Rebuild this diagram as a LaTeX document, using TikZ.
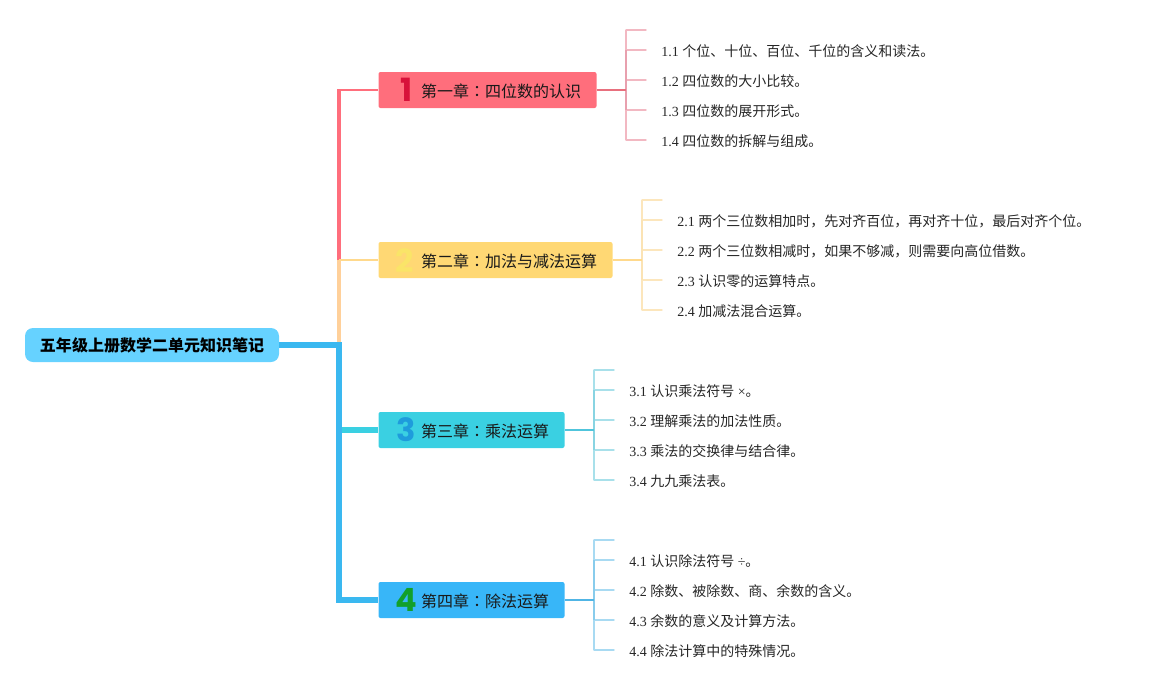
\documentclass[tikz,border=0pt]{standalone}
\usepackage{fontspec}
\setmainfont{Liberation Serif}
\newfontfamily\cjkfont{Noto Sans CJK SC}
\newfontfamily\tcfont{Noto Sans CJK TC}
\newfontfamily\numfont{Poppins}
\usepackage{tikz}
\usetikzlibrary{positioning,calc}

\definecolor{rootblue}{HTML}{66D2FF}
\definecolor{trunkblue}{HTML}{3AB8F0}
\definecolor{chredfill}{HTML}{FF6E7C}
\definecolor{chyellowfill}{HTML}{FFD874}
\definecolor{chcyanfill}{HTML}{3AD0E2}
\definecolor{chbluefill}{HTML}{38B6F8}
\definecolor{peach}{HTML}{FFD09A}
\definecolor{stema}{HTML}{E8A0AE}
\definecolor{stemb}{HTML}{FBE3B4}
\definecolor{stemc}{HTML}{88D4E2}
\definecolor{stemd}{HTML}{88CCEC}
\definecolor{ticka}{HTML}{F2B8C2}
\definecolor{tickb}{HTML}{FCE6BC}
\definecolor{tickc}{HTML}{A8E0EA}
\definecolor{tickd}{HTML}{A8DAF2}
\definecolor{linka}{HTML}{E8707E}
\definecolor{linkb}{HTML}{FFD98C}
\definecolor{linkc}{HTML}{50C5DC}
\definecolor{linkd}{HTML}{50B5E5}
\definecolor{numa}{HTML}{D8123A}
\definecolor{numb}{HTML}{FAE468}
\definecolor{numc}{HTML}{1E9CDC}
\definecolor{numd}{HTML}{12A02A}

\newcommand{\chcolon}{{\tcfont ：}}

\begin{document}
\begin{tikzpicture}[
  x=0.75pt, y=-0.75pt,
  root/.style    = {fill=rootblue, rounded corners=6pt, minimum width=190.5pt,
                    minimum height=25.5pt, inner sep=0pt,
                    font=\cjkfont\bfseries\fontsize{12}{14}\selectfont},
  chapter/.style = {rounded corners=1.5pt, minimum height=27pt, inner sep=0pt},
  chtxt/.style   = {inner sep=0pt, yshift=-0.75pt, text=black!90,
                    font=\cjkfont\fontsize{12}{14}\selectfont},
  num/.style     = {font=\numfont\bfseries\fontsize{24}{26}\selectfont, inner sep=0pt},
  leaf/.style    = {anchor=west, inner sep=0pt, text=black!85,
                    font=\fontsize{10.5}{12}\selectfont},
  tick/.style    = {line width=1.1pt, line cap=round},
  stem/.style    = {line width=1.2pt},
]
\useasboundingbox (0,0) rectangle (1150,690);

%% Root
\node[root] (root) at (152,345) {\raisebox{-0.6pt}{五年级上册数学二单元知识笔记}};

%% Chapters
\node[chapter, fill=chredfill, minimum width=163.5pt] (ch1) at (487.5,90) {};
\node[chapter, fill=chyellowfill, minimum width=175.5pt] (ch2) at (495.5,260) {};
\node[chapter, fill=chcyanfill, minimum width=139.5pt] (ch3) at (471.5,430) {};
\node[chapter, fill=chbluefill, minimum width=139.5pt] (ch4) at (471.5,600) {};

\node[chtxt, right=32pt of ch1.west] (t1) {第一章\chcolon 四位数的认识};
\node[chtxt, right=32pt of ch2.west] (t2) {第二章\chcolon 加法与减法运算};
\node[chtxt, right=32pt of ch3.west] (t3) {第三章\chcolon 乘法运算};
\node[chtxt, right=32pt of ch4.west] (t4) {第四章\chcolon 除法运算};

\node[num, text=numa] (n1) at (406.5,90) {1};
\node[num, text=numb] (n2) at (405,261) {2};
\node[num, text=numc] (n3) at (406,430) {3};
\node[num, text=numd] (n4) at (406,600) {4};

%% Trunk
\coordinate (jn) at (339,345);
\coordinate (jn2) at (339,260);
\coordinate (jn3) at (339,430);
\coordinate (rootend) at (341.5,345);
\coordinate (topcorner) at (339,90);
\coordinate (lowcorner) at (339,600);
\draw[line width=2.6pt, color=chredfill] (jn2) -- (topcorner);
\draw[line width=2pt, color=chredfill] ($(topcorner)+(-1.75,0)$) -- (ch1.west);
\draw[line width=2.4pt, color=peach] (jn) -- (jn2);
\draw[line width=2pt, color=linkb] (jn2) -- (ch2.west);
\draw[line width=4pt, color=chcyanfill] (jn3) -- (ch3.west);
\draw[line width=4pt, color=trunkblue, line join=miter] (rootend) -- (jn) -- (lowcorner) -- (ch4.west);
\draw[line width=4pt, color=trunkblue] (root.east) -- (rootend);

%% Leaf nodes: chapter 1
\foreach \name/\ypos/\txt in {a/51/1.1 \cjkfont 个位、十位、百位、千位的含义和读法。,
    b/81/1.2 \cjkfont 四位数的大小比较。,
    c/111/1.3 \cjkfont 四位数的展开形式。,
    d/141/1.4 \cjkfont 四位数的拆解与组成。}
  \node[leaf] (l1\name) at (661,\ypos) {\txt};

%% Leaf nodes: chapter 2
\foreach \name/\ypos/\txt in {a/221/2.1 \cjkfont 两个三位数相加时，先对齐百位，再对齐十位，最后对齐个位。,
    b/251/2.2 \cjkfont 两个三位数相减时，如果不够减，则需要向高位借数。,
    c/281/2.3 \cjkfont 认识零的运算特点。,
    d/311/2.4 \cjkfont 加减法混合运算。}
  \node[leaf] (l2\name) at (677,\ypos) {\txt};

%% Leaf nodes: chapter 3
\foreach \name/\ypos/\txt in {a/391/3.1 {\cjkfont 认识乘法符号} ×{\cjkfont 。},
    b/421/3.2 \cjkfont 理解乘法的加法性质。,
    c/451/3.3 \cjkfont 乘法的交换律与结合律。,
    d/481/3.4 \cjkfont 九九乘法表。}
  \node[leaf] (l3\name) at (629,\ypos) {\txt};

%% Leaf nodes: chapter 4
\foreach \name/\ypos/\txt in {a/561/4.1 {\cjkfont 认识除法符号} ÷{\cjkfont 。},
    b/591/4.2 \cjkfont 除数、被除数、商、余数的含义。,
    c/621/4.3 \cjkfont 余数的意义及计算方法。,
    d/651/4.4 \cjkfont 除法计算中的特殊情况。}
  \node[leaf] (l4\name) at (629,\ypos) {\txt};

%% Brackets
\foreach \ch/\xpos/\ytop/\sfx in {1/626/30/a, 2/642/200/b, 3/594/370/c, 4/594/540/d} {
  \coordinate (jn\sfx) at (\xpos,\ytop+60);
  \coordinate (top\sfx) at (\xpos,\ytop);
  \coordinate (bot\sfx) at (\xpos,\ytop+110);
  \coordinate (midt\sfx) at (\xpos,\ytop+20);
  \coordinate (midb\sfx) at (\xpos,\ytop+80);
  \draw[stem, color=tick\sfx] (top\sfx) -- (bot\sfx);
  \foreach \dy in {0,20,50,80,110} {
    \coordinate (from\sfx\dy) at (\xpos,\ytop+\dy);
    \coordinate (to\sfx\dy) at (\xpos+20,\ytop+\dy);
    \draw[tick, color=tick\sfx] (from\sfx\dy) -- (to\sfx\dy);
  }
  \draw[stem, color=stem\sfx] (midt\sfx) -- (midb\sfx);
  \draw[line width=1.5pt, color=link\sfx] (ch\ch.east) -- (jn\sfx);
}

\end{tikzpicture}
\end{document}
